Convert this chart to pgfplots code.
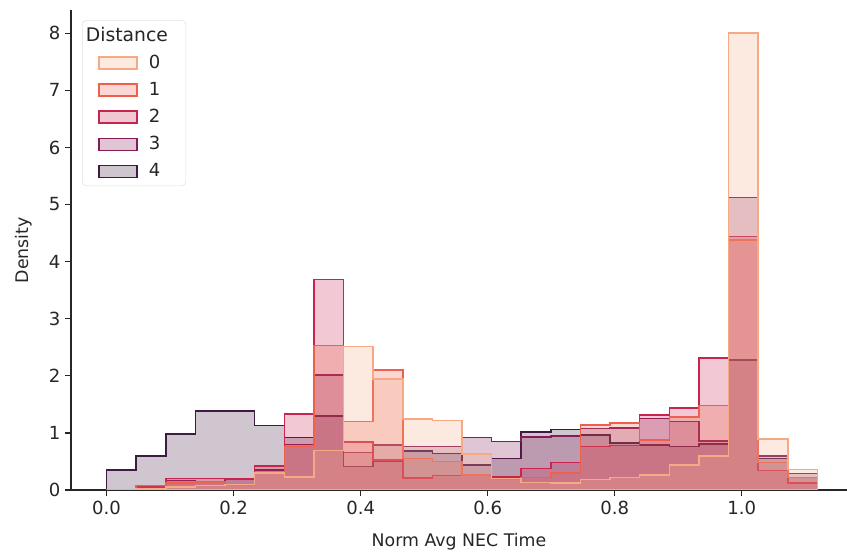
\documentclass[border=0pt]{standalone}
\usepackage{pgfplots}
\pgfplotsset{compat=1.18}
\usepackage{pgfplotstable}
\usepackage{fontspec}
\setmainfont{DejaVu Sans}
\definecolor{c0}{HTML}{F5A984}
\definecolor{c1}{HTML}{ED604C}
\definecolor{c2}{HTML}{C7254F}
\definecolor{c3}{HTML}{841C58}
\definecolor{c4}{HTML}{3F1A42}

\pgfplotstableread{
edge   d0   d1   d2   d3   d4
0      0    0    0    0    0.35
0.0466 0.03 0.08 0.05 0.03 0.60
0.0933 0.05 0.12 0.20 0.17 0.98
0.1399 0.08 0.14 0.20 0.15 1.38
0.1865 0.10 0.09 0.19 0.20 1.38
0.2331 0.30 0.30 0.42 0.35 1.13
0.2798 0.23 0.76 1.33 0.80 0.92
0.3264 0.69 2.53 3.69 2.01 1.30
0.3730 2.51 1.20 0.84 0.66 0.41
0.4196 1.94 2.10 0.53 0.79 0.50
0.4663 1.24 0.55 0.21 0.76 0.68
0.5129 1.22 0.50 0.25 0.76 0.64
0.5595 0.63 0.26 0.26 0.92 0.44
0.6061 0.20 0.19 0.23 0.85 0.55
0.6528 0.13 0.22 0.38 0.93 1.02
0.6994 0.12 0.30 0.48 0.95 1.06
0.7460 0.18 1.14 0.76 1.08 0.96
0.7926 0.22 1.17 0.78 1.09 0.82
0.8393 0.26 0.88 1.31 1.25 0.79
0.8859 0.44 1.28 1.44 1.20 0.76
0.9325 0.60 1.48 2.31 0.86 0.81
0.9791 8.00 4.38 4.44 5.12 2.28
1.0258 0.89 0.48 0.34 0.60 0.55
1.0724 0.36 0.22 0.12 0.29 0.22
1.1190 0.36 0.22 0.12 0.29 0.22
}\hist

\begin{document}
\begin{tikzpicture}
\useasboundingbox (-51.12pt,-48.24pt) rectangle (558.72pt,352.8pt);
\begin{axis}[
  at={(0pt,0pt)}, anchor=south west,
  scale only axis, width=558.72pt, height=345.3pt,
  xmin=-0.056, xmax=1.1656, ymin=0, ymax=8.4,
  axis x line=bottom, axis y line=left,
  axis line style={-, line width=0.9pt, black!85},
  tick align=outside, major tick length=4.2pt,
  tick style={line width=0.9pt, black!85},
  xtick={0,0.2,0.4,0.6,0.8,1.0}, ytick={0,1,2,3,4,5,6,7,8},
  xticklabel style={/pgf/number format/.cd, fixed, fixed zerofill, precision=1},
  /pgf/number format/assume math mode=true,
  tick label style={font=\fontsize{13}{15}\selectfont, text=black!85},
  label style={font=\fontsize{12.5}{15}\selectfont, text=black!85},
  xlabel={Norm Avg NEC Time}, ylabel={Density},
  xlabel shift=7pt, ylabel shift=5pt,
  legend cell align=left,
  legend image code/.code={\path (0pt,0pt) (42pt,0pt); \draw[#1, sharp corners] (8.6pt,-4.3pt) rectangle (36pt,4.3pt);},
  legend style={at={(0.0142,0.98)}, anchor=north west, draw=black!12,
    rounded corners=3pt, fill=white, inner xsep=3pt, inner ysep=3pt,
    font=\fontsize{13}{15}\selectfont, text=black!85, row sep=4.4pt},
]
\addplot[const plot, draw=c4, fill=c4, fill opacity=0.25, line width=1.1pt, forget plot] table[x=edge, y=d4] {\hist} \closedcycle;
\addplot[const plot, draw=c3, fill=c3, fill opacity=0.25, line width=1.1pt, forget plot] table[x=edge, y=d3] {\hist} \closedcycle;
\addplot[const plot, draw=c2, fill=c2, fill opacity=0.25, line width=1.1pt, forget plot] table[x=edge, y=d2] {\hist} \closedcycle;
\addplot[const plot, draw=c1, fill=c1, fill opacity=0.25, line width=1.1pt, forget plot] table[x=edge, y=d1] {\hist} \closedcycle;
\addplot[const plot, draw=c0, fill=c0, fill opacity=0.25, line width=1.1pt, forget plot] table[x=edge, y=d0] {\hist} \closedcycle;
\addlegendimage{empty legend}
\addlegendentry{\hspace*{-45.3pt}\fontsize{13.5}{15}\selectfont Distance\hspace*{8pt}\rule[-3.6pt]{0pt}{1pt}}
\addlegendimage{draw=c0, fill=c0, fill opacity=0.25, line width=0.9pt}
\addlegendentry{0}
\addlegendimage{draw=c1, fill=c1, fill opacity=0.25, line width=0.9pt}
\addlegendentry{1}
\addlegendimage{draw=c2, fill=c2, fill opacity=0.25, line width=0.9pt}
\addlegendentry{2}
\addlegendimage{draw=c3, fill=c3, fill opacity=0.25, line width=0.9pt}
\addlegendentry{3}
\addlegendimage{draw=c4, fill=c4, fill opacity=0.25, line width=0.9pt}
\addlegendentry{4}
\end{axis}
\end{tikzpicture}
\end{document}
